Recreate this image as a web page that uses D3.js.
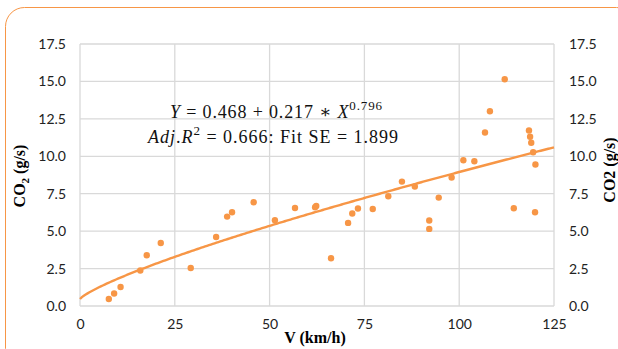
<!DOCTYPE html>
<html lang="en">
<head>
    <meta charset="UTF-8">
    <title>CO2 vs V</title>
    <script src="https://d3js.org/d3.v7.min.js"></script>
    <style>
        body { margin: 0; background: #fff; }
    </style>
</head>
<body>
    <div id="chart"></div>
    <script>
        const ancho = 618;
        const alto = 349;

        // Datos
        const velocidad = [7.6, 9.0, 10.7, 15.9, 17.6, 21.3, 29.2, 35.9, 38.8, 40.1, 45.8, 51.4,
            56.7, 62.0, 62.3, 66.2, 70.7, 71.8, 73.3, 77.2, 81.3, 84.9, 88.3, 92.1, 92.1, 94.6,
            98.0, 101.1, 104.0, 106.8, 108.1, 112.0, 114.4, 118.4, 118.7, 119.0, 119.5, 120.1, 120.0];
        const co2 = [0.47, 0.83, 1.27, 2.37, 3.39, 4.21, 2.54, 4.61, 5.97, 6.26, 6.93, 5.73,
            6.55, 6.6, 6.68, 3.19, 5.55, 6.18, 6.51, 6.48, 7.33, 8.31, 7.98, 5.71, 5.15, 7.24,
            8.58, 9.74, 9.67, 11.59, 13.01, 15.15, 6.53, 11.72, 11.3, 10.9, 10.27, 9.45, 6.26];

        // Coeficientes del ajuste Y = a + b * X^c
        const coefAjuste = [0.468, 0.217, 0.796];

        const ticksX = [0, 25, 50, 75, 100, 125];
        const ticksY = [0, 2.5, 5, 7.5, 10, 12.5, 15, 17.5];

        const naranja = "#f79646";
        const gris = "#d9d9d9";

        const svg = d3.select("#chart")
            .append("svg")
            .attr("width", ancho)
            .attr("height", alto)
            .style("display", "block");

        // Marco redondeado exterior
        svg.append("rect")
            .attr("x", 5.5).attr("y", 7.5)
            .attr("width", 630).attr("height", 360)
            .attr("rx", 19).attr("ry", 19)
            .attr("fill", "none")
            .attr("stroke", naranja)
            .attr("stroke-width", 1);

        const escalaX = d3.scaleLinear().domain([0, 125]).range([80, 554]);
        const escalaY = d3.scaleLinear().domain([0, 17.5]).range([306, 44]);

        // Rejilla
        svg.append("g")
            .selectAll("line")
            .data(ticksY)
            .join("line")
            .attr("x1", escalaX(0)).attr("x2", escalaX(125))
            .attr("y1", d => escalaY(d)).attr("y2", d => escalaY(d))
            .attr("stroke", gris).attr("stroke-width", 1.3);

        svg.append("g")
            .selectAll("line")
            .data(ticksX)
            .join("line")
            .attr("x1", d => escalaX(d)).attr("x2", d => escalaX(d))
            .attr("y1", escalaY(0)).attr("y2", escalaY(17.5))
            .attr("stroke", gris).attr("stroke-width", 1.3);

        // Ejes
        const fuenteTicks = "Lato, 'Open Sans', sans-serif";

        const ejeIzq = svg.append("g")
            .attr("transform", `translate(${escalaX(0) - 14},0)`)
            .call(d3.axisLeft(escalaY).tickValues(ticksY).tickFormat(d3.format(".1f")).tickSize(0).tickPadding(0));

        const ejeDer = svg.append("g")
            .attr("transform", `translate(${escalaX(125) + 15},0)`)
            .call(d3.axisRight(escalaY).tickValues(ticksY).tickFormat(d3.format(".1f")).tickSize(0).tickPadding(0));

        const ejeX = svg.append("g")
            .attr("transform", `translate(0,${escalaY(0) + 13})`)
            .call(d3.axisBottom(escalaX).tickValues(ticksX).tickFormat(d3.format("d")).tickSize(0).tickPadding(0));

        [ejeIzq, ejeDer, ejeX].forEach(eje => {
            eje.select(".domain").remove();
            eje.selectAll("text")
                .attr("fill", "#222")
                .style("font-family", fuenteTicks)
                .style("font-size", "14px");
        });

        // Curva ajustada
        const [a, b, c] = coefAjuste;
        const curva = d3.range(0, 125.01, 0.5).map(x => [x, a + b * Math.pow(x, c)]);

        svg.append("path")
            .datum(curva)
            .attr("fill", "none")
            .attr("stroke", naranja)
            .attr("stroke-width", 2.4)
            .attr("d", d3.line().x(d => escalaX(d[0])).y(d => escalaY(d[1])));

        // Puntos
        svg.append("g")
            .selectAll("circle")
            .data(velocidad)
            .join("circle")
            .attr("cx", d => escalaX(d))
            .attr("cy", (d, i) => escalaY(co2[i]))
            .attr("r", 3.2)
            .attr("fill", naranja);

        // Ecuacion
        const fuenteSerif = "'Liberation Serif', 'DejaVu Serif', serif";
        const ecuacion = svg.append("g")
            .style("font-family", fuenteSerif)
            .style("font-size", "18px")
            .attr("fill", "#111");

        const linea1 = ecuacion.append("text")
            .attr("x", 170).attr("y", 118)
            .attr("textLength", 212)
            .attr("lengthAdjust", "spacing");
        linea1.append("tspan").style("font-style", "italic").text("Y");
        linea1.append("tspan").text(` = ${a} + ${b} ∗ `);
        linea1.append("tspan").style("font-style", "italic").text("X");
        linea1.append("tspan").attr("dy", -8).style("font-size", "13px").text(c);

        const linea2 = ecuacion.append("text")
            .attr("x", 148).attr("y", 143)
            .attr("textLength", 250)
            .attr("lengthAdjust", "spacing");
        linea2.append("tspan").style("font-style", "italic").text("Adj");
        linea2.append("tspan").text(".");
        linea2.append("tspan").style("font-style", "italic").text("R");
        linea2.append("tspan").attr("dy", -8).style("font-size", "13px").text("2");
        linea2.append("tspan").attr("dy", 8).text(" = 0.666: Fit SE = 1.899");

        // Titulos de ejes
        svg.append("text")
            .attr("x", 315).attr("y", 343)
            .attr("text-anchor", "middle")
            .style("font-family", fuenteSerif)
            .style("font-weight", "bold")
            .style("font-size", "16px")
            .text("V (km/h)");

        const tituloIzq = svg.append("text")
            .attr("transform", "translate(25,176) rotate(-90)")
            .attr("text-anchor", "middle")
            .style("font-family", fuenteSerif)
            .style("font-weight", "bold")
            .style("font-size", "16px");
        tituloIzq.append("tspan").text("CO");
        tituloIzq.append("tspan").attr("dy", 4).style("font-size", "11px").text("2");
        tituloIzq.append("tspan").attr("dy", -4).text(" (g/s)");

        svg.append("text")
            .attr("transform", "translate(615,170) rotate(-90)")
            .attr("text-anchor", "middle")
            .style("font-family", fuenteSerif)
            .style("font-weight", "bold")
            .style("font-size", "16px")
            .text("CO2 (g/s)");
    </script>
</body>
</html>
